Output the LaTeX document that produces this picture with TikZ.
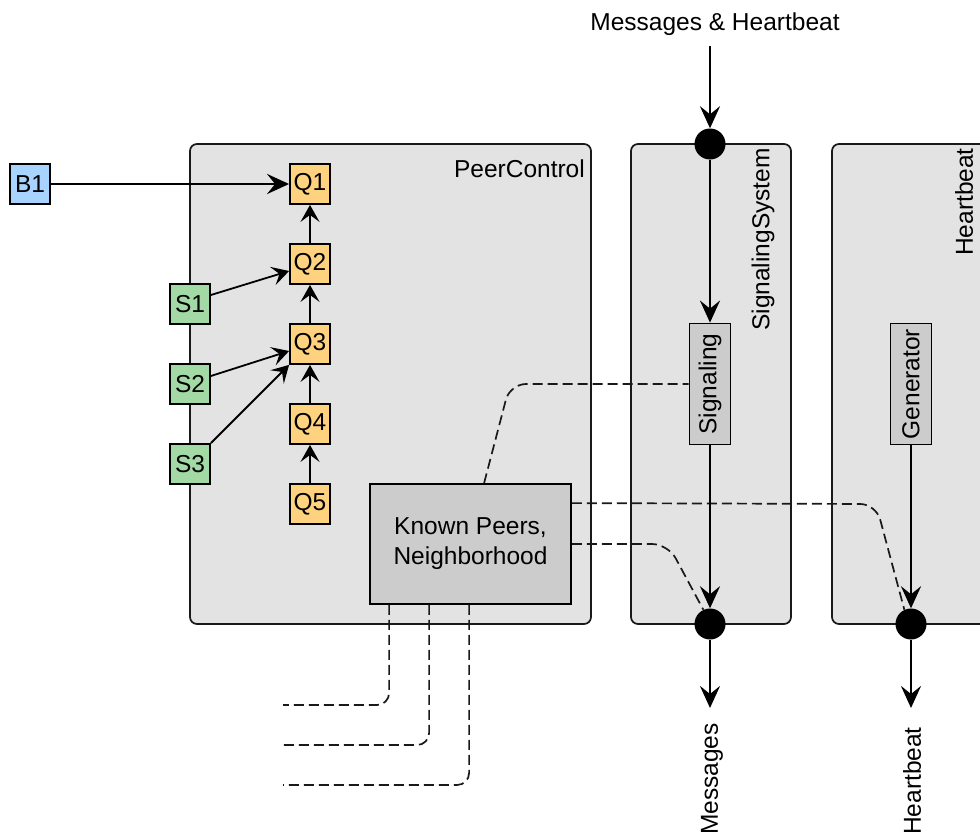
\documentclass[tikz,border=0pt]{standalone}
\usepackage{fontspec}
\setmainfont{Liberation Sans}
\usetikzlibrary{arrows.meta,calc}
\definecolor{panelgray}{HTML}{E3E3E3}
\definecolor{boxgray}{HTML}{CCCCCC}
\definecolor{qorange}{HTML}{FFD27F}
\definecolor{sgreen}{HTML}{A3D9A5}
\definecolor{bblue}{HTML}{A8D3FF}
\begin{document}
\begin{tikzpicture}[x=1pt,y=-1pt,
  every node/.style={font=\fontsize{24.5}{30}\selectfont},
  panel/.style={draw=black!90, line width=1.7pt, fill=panelgray, rounded corners=7pt, inner sep=0pt},
  smallbox/.style={draw=black, line width=1.8pt, minimum size=40pt, inner sep=0pt},
  qbox/.style={smallbox, fill=qorange},
  sbox/.style={smallbox, fill=sgreen},
  bbox/.style={smallbox, fill=bblue},
  gbox/.style={draw=black, line width=1.8pt, fill=boxgray, inner sep=0pt},
  dot/.style={circle, fill=black, minimum size=31pt, inner sep=0pt},
  plain/.style={inner sep=0pt},
  bigarrow/.style={line width=2.8pt, -{Stealth[length=22pt,width=20pt,inset=8pt]}},
  smallarrow/.style={line width=1.8pt, -{Stealth[length=17pt,width=19pt,inset=7pt]}},
  dashline/.style={draw=black!90, line width=1.7pt, dash pattern=on 10pt off 5pt, rounded corners=16pt},
]
\clip (0,0) rectangle (980,835);
\fill[white] (0,0) rectangle (980,835);

% containers
\node[panel, minimum width=401pt, minimum height=480pt] (pc) at (390.5,384) {};
\node[panel, minimum width=160pt, minimum height=480pt] (ss) at (711,384) {};
\node[panel, minimum width=200pt, minimum height=480pt] (hb) at (932,384) {};

\node[plain, anchor=base east] (pclabel) at (585,177) {PeerControl};
\node[plain, rotate=90, anchor=east] (sslabel) at (763,148) {SignalingSystem};
\node[plain, rotate=90, anchor=east] (hblabel) at (964,148) {Heartbeat};

% queue and sources
\node[bbox] (b1) at (30,184) {B1};
\node[qbox] (q1) at (310,184) {Q1};
\node[qbox] (q2) at (310,264) {Q2};
\node[qbox] (q3) at (310,344) {Q3};
\node[qbox] (q4) at (310,424) {Q4};
\node[qbox] (q5) at (310,504) {Q5};
\node[sbox] (s1) at (190,304) {S1};
\node[sbox] (s2) at (190,384) {S2};
\node[sbox] (s3) at (190,464) {S3};

\node[gbox, minimum width=201pt, minimum height=120pt, align=center] (kp) at (470.5,544) {Known Peers,\\Neighborhood};
\node[gbox, minimum width=41pt, minimum height=121pt] (sig) at (710,384) {\rotatebox{90}{Signaling}};
\node[gbox, minimum width=41pt, minimum height=121pt] (gen) at (911,384) {\rotatebox{90}{Generator}};

% junction points
\node[dot] (indot) at (710,144) {};
\node[dot] (sigdot) at (710,624) {};
\node[dot] (gendot) at (911,624) {};

% external labels and free ends
\node[plain] (msghb) at (715,24) {Messages \& Heartbeat};
\node[plain, rotate=90, anchor=east] (msglabel) at (712,723) {Messages};
\node[plain, rotate=90, anchor=east] (hbout) at (912,727) {Heartbeat};
\coordinate (msgin) at (710,46);
\coordinate (msgend) at (710,708);
\coordinate (hbend) at (911,708);
\coordinate (o1) at (283,705);
\coordinate (o2) at (283,745);
\coordinate (o3) at (283,785);

% data dependencies
\draw[dashline] ([xshift=115pt]kp.north west) -- (510,384) -- (sig.west);
\draw[dashline] ([yshift=-20pt]kp.north east) -- (876,504) -- (gendot.115);
\draw[dashline] (kp.east) -- (668,544) -- (sigdot.115);
\draw[dashline, rounded corners=12pt] ([xshift=20pt]kp.south west) |- (o1);
\draw[dashline, rounded corners=12pt] ([xshift=60pt]kp.south west) |- (o2);
\draw[dashline, rounded corners=12pt] ([xshift=100pt]kp.south west) |- (o3);

% message flow
\draw[bigarrow] (b1) -- (q1);
\draw[smallarrow] (q2) -- (q1);
\draw[smallarrow] (q3) -- (q2);
\draw[smallarrow] (q4) -- (q3);
\draw[smallarrow] (q5) -- (q4);
\draw[smallarrow] ([yshift=9pt]s1.east) -- ([yshift=-7pt]q2.west);
\draw[smallarrow] ([yshift=8pt]s2.east) -- ([yshift=-7pt]q3.west);
\draw[smallarrow] (s3.north east) -- (q3.south west);

\draw[bigarrow] (msgin) -- (indot);
\draw[bigarrow] (indot) -- (sig);
\draw[bigarrow] (sig) -- (sigdot);
\draw[bigarrow] (sigdot) -- (msgend);
\draw[bigarrow] (gen) -- (gendot);
\draw[bigarrow] (gendot) -- (hbend);
\end{tikzpicture}
\end{document}
